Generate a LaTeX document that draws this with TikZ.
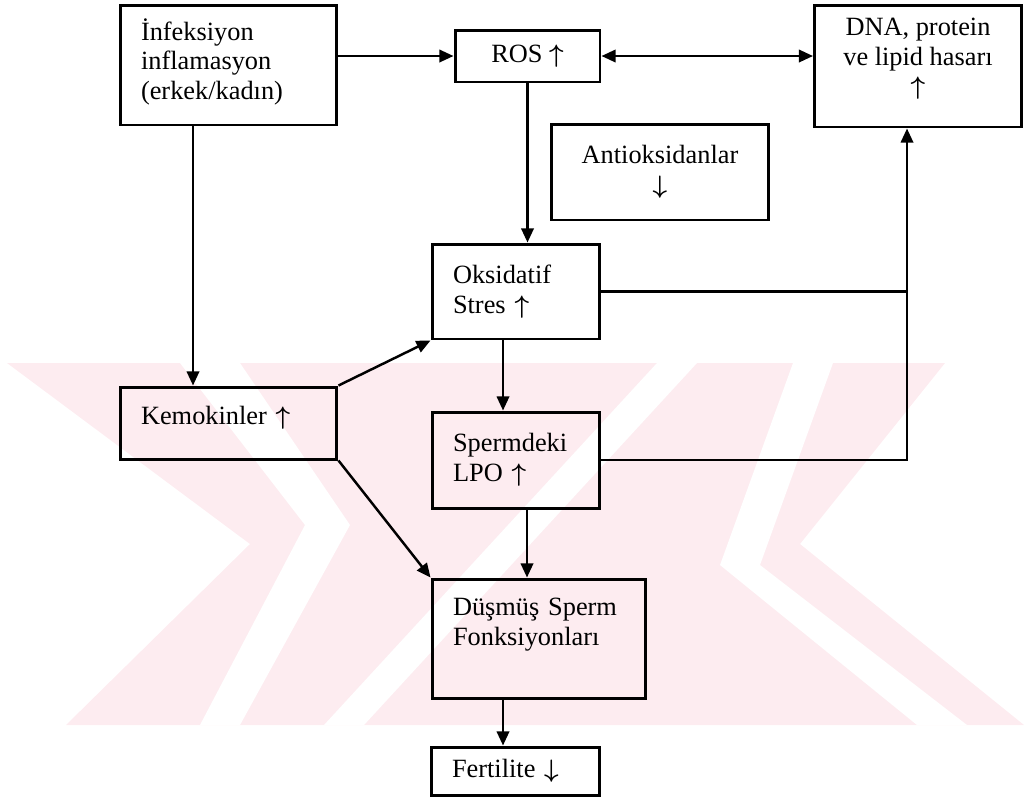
\documentclass[tikz,border=0pt]{standalone}
\usepackage{fontspec}
\setmainfont{Liberation Serif}
\usetikzlibrary{arrows.meta}
\definecolor{yokpink}{RGB}{253,236,240}
\newcommand{\yukari}{{\boldmath$\uparrow$}}
\newcommand{\asagi}{{\boldmath$\downarrow$}}
\begin{document}
\begin{tikzpicture}[x=0.02cm,y=-0.02cm,
  font=\fontsize{15}{16.8}\selectfont,
  kutu/.style={draw,line width=1.7pt,inner xsep=0.42cm,inner ysep=0pt},
  solkutu/.style={kutu,align=left,text width=#1},
  ok/.style={line width=1.4pt,-{Triangle[length=8pt,width=7pt]}},
  cift/.style={line width=1.4pt,{Triangle[length=8pt,width=7pt]}-{Triangle[length=8pt,width=7pt]}},
  cizgi/.style={line width=1.4pt}]
\useasboundingbox (0,0) rectangle (1027,796);
% watermark
\fill[yokpink] (7,363) -- (945,363) -- (800,544) -- (1024,725) -- (66,725) -- (250,544) -- cycle;
\fill[white] (180,363) -- (240,363) -- (350,525) -- (240,725) -- (200,725) -- (305,525) -- cycle;
\fill[white] (657,363) -- (697,363) -- (364,725) -- (324,725) -- cycle;
\fill[white] (793,363) -- (833,363) -- (760,565) -- (967,725) -- (917,725) -- (720,565) -- cycle;

\node (inf) [solkutu=3.5cm, minimum height=2.4cm] at (228.5,65) {İnfeksiyon\\inflamasyon\\(erkek/kadın)\\[-10pt]\mbox{}};
\node (ros) [kutu, minimum width=2.9cm, minimum height=1.04cm] at (527.5,56) {ROS \yukari};
\node (dna) [kutu, align=center, minimum width=4.14cm, minimum height=2.44cm] at (918,66) {DNA, protein\\ve lipid hasarı\\\yukari\\[-6pt]\mbox{}};
\node (antiox) [kutu, align=center, minimum width=4.36cm, minimum height=1.92cm] at (660,172) {Antioksidanlar\\\asagi};
\node (oks) [solkutu=2.52cm, minimum height=1.9cm] at (516,291.5) {Oksidatif\\Stres \yukari};
\node (kemo) [solkutu=3.5cm, minimum height=1.44cm] at (228.5,423) {Kemokinler \yukari\\[-8pt]\mbox{}};
\node (lpo) [solkutu=2.52cm, minimum height=1.92cm] at (516,460) {Spermdeki\\LPO \yukari};
\node (dus) [solkutu=3.44cm, minimum height=2.38cm] at (539,638.5) {Düşmüş Sperm\\Fonksiyonları\\[2pt]\mbox{}};
\node (fert) [solkutu=2.54cm, minimum height=0.96cm] at (515.5,771) {Fertilite \asagi};

\coordinate (kemoin) at ([xshift=-0.71cm]kemo.north);
\coordinate (lpoin) at ([xshift=-0.26cm]lpo.north);
\coordinate (dusin) at ([xshift=-0.24cm]dus.north);
\coordinate (fertin) at ([xshift=-0.25cm]fert.north);
\coordinate (dnain) at ([xshift=-0.22cm]dna.south);

\draw[ok] (inf.east |- ros.west) -- (ros.west);
\draw[cift] (ros.east) -- (dna.west |- ros.east);
\draw[ok] (ros.south) -- (ros.south |- oks.north);
\draw[ok] (kemoin |- inf.south) -- (kemoin);
\draw[ok] (kemo.north east) -- (oks.south west);
\draw[ok] (kemo.south east) -- (dus.north west);
\draw[ok] (lpoin |- oks.south) -- (lpoin);
\draw[ok] (dusin |- lpo.south) -- (dusin);
\draw[ok] (fertin |- dus.south) -- (fertin);
\draw[cizgi] (oks.east) -- (oks.east -| dnain);
\draw[ok] (lpo.east) -| (dnain);
\end{tikzpicture}
\end{document}
